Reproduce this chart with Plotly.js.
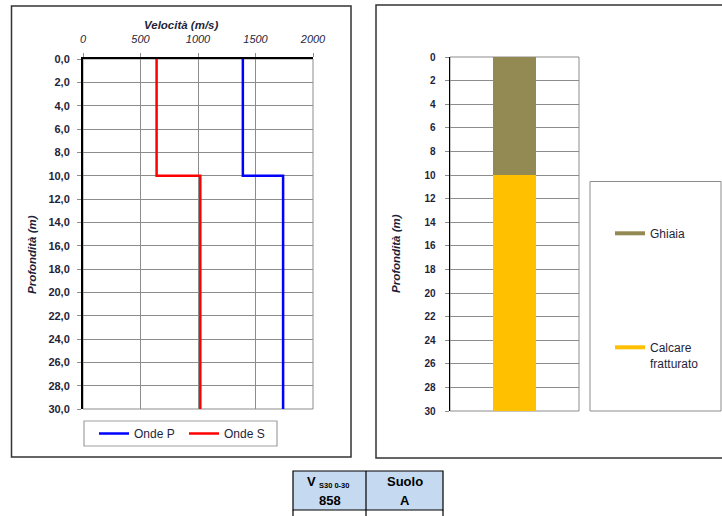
<!DOCTYPE html>
<html><head><meta charset="utf-8">
<script src="https://cdn.plot.ly/plotly-3.0.1.min.js"></script>
<style>html,body{margin:0;padding:0;background:#fff}#chart{width:722px;height:516px}</style>
</head><body><div id="chart"></div>
<script>
// ---- data ----
const profileDepth = [0, 10, 10, 30];
const vpValues = [1390, 1390, 1740, 1740];   // Onde P (m/s)
const vsValues = [640, 640, 1020, 1020];     // Onde S (m/s)
const velocityTicks = [0, 500, 1000, 1500, 2000];
const velocityTickLabels = ['0', '500', '1000', '1500', '2000'];
const depthTicks = [0,2,4,6,8,10,12,14,16,18,20,22,24,26,28,30];
const depthTickLabels = ['0,0','2,0','4,0','6,0','8,0','10,0','12,0','14,0','16,0','18,0','20,0','22,0','24,0','26,0','28,0','30,0'];
const depthTickLabels2 = ['0','2','4','6','8','10','12','14','16','18','20','22','24','26','28','30'];
const layerNames = ['Ghiaia', 'Calcare fratturato'];
const layerLegend = ['Ghiaia', 'Calcare<br>fratturato'];
const layerThickness = [10, 20];
const layerColors = ['#938953', '#FFC000'];
const vs30Value = '858';
const soilClass = 'A';

// ---- helpers (pixel -> paper) ----
const W = 722, H = 516;
const px = x => x / W;
const py = y => 1 - y / H;

const FONT = 'Arial, "Liberation Sans", sans-serif';
const TXT = '#1f1f3a';
const GRID = '#8c8c8c';

const traces = [
  {x: vpValues, y: profileDepth, xaxis:'x', yaxis:'y', mode:'lines', name:'Onde P',
   line:{color:'#0000FF', width:2.5}, legend:'legend'},
  {x: vsValues, y: profileDepth, xaxis:'x', yaxis:'y', mode:'lines', name:'Onde S',
   line:{color:'#FF0000', width:2.5}, legend:'legend'}
];
layerNames.forEach((n, i) => {
  traces.push({type:'bar', x:['profilo'], y:[layerThickness[i]], xaxis:'x2', yaxis:'y2',
    name:n, marker:{color:layerColors[i], line:{width:0}}, width:0.33, showlegend:false});
});
layerNames.forEach((n, i) => {
  traces.push({x:[null], y:[null], xaxis:'x2', yaxis:'y2', mode:'lines', name:layerLegend[i],
    line:{color:layerColors[i], width:4}, legend:'legend2', legendgroup:'g'+i});
});

const shapes = [
  // outer frames
  {type:'rect', xref:'paper', yref:'paper', x0:px(11.5), x1:px(351), y0:py(6), y1:py(457),
   line:{color:'#333', width:1.5}},
  {type:'rect', xref:'paper', yref:'paper', x0:px(376), x1:px(740), y0:py(5), y1:py(458),
   line:{color:'#333', width:1.5}},
  // plot area borders (gray)
  {type:'rect', xref:'x domain', yref:'y domain', x0:0, x1:1, y0:0, y1:1, line:{color:GRID, width:1}, layer:'below'},
  {type:'rect', xref:'x2 domain', yref:'y2 domain', x0:0, x1:1, y0:0, y1:1, line:{color:GRID, width:1}, layer:'below'},
  // legend boxes
  {type:'rect', xref:'paper', yref:'paper', x0:px(84), x1:px(277), y0:py(421), y1:py(446),
   line:{color:'#a0a0a0', width:1.2}},
  {type:'rect', xref:'paper', yref:'paper', x0:px(590), x1:px(721), y0:py(181.5), y1:py(411),
   line:{color:GRID, width:1}},
  // table
  {type:'rect', xref:'paper', yref:'paper', x0:px(293), x1:px(443), y0:py(471), y1:py(510),
   fillcolor:'#C5D9F1', line:{color:'#000', width:1.2}},
  {type:'line', xref:'paper', yref:'paper', x0:px(366), x1:px(366), y0:py(471), y1:py(520),
   line:{color:'#000', width:1.2}},
  {type:'line', xref:'paper', yref:'paper', x0:px(293), x1:px(293), y0:py(510), y1:py(520),
   line:{color:'#000', width:1.2}},
  {type:'line', xref:'paper', yref:'paper', x0:px(443), x1:px(443), y0:py(510), y1:py(520),
   line:{color:'#000', width:1.2}}
];

const ann = (x, y, text, size, extra) => Object.assign({xref:'paper', yref:'paper', x:px(x), y:py(y),
  text:text, showarrow:false, xanchor:'center', yanchor:'middle',
  font:{family:FONT, size:size, color:TXT}}, extra || {});

const annotations = [
  ann(182, 25, '<b><i>Velocità (m/s)</i></b>', 11.5),
  ann(32, 255, '<b><i>Profondità (m)</i></b>', 11.5, {textangle:-90}),
  ann(396, 254, '<b><i>Profondità (m)</i></b>', 11.5, {textangle:-90}),
  ann(311, 481, '<b>V</b>', 13, {font:{family:FONT, size:13, color:'#000'}}),
  ann(316.5, 485, '<b>S30 0-30</b>', 7.5, {xanchor:'left', font:{family:FONT, size:7.5, color:'#000'}}),
  ann(329.5, 500, '<b>'+vs30Value+'</b>', 13, {font:{family:FONT, size:13, color:'#000'}}),
  ann(404.5, 481, '<b>Suolo</b>', 13, {font:{family:FONT, size:13, color:'#000'}}),
  ann(404.5, 500, '<b>'+soilClass+'</b>', 13, {font:{family:FONT, size:13, color:'#000'}})
];

const layout = {
  width: W, height: H, margin:{l:0, r:0, t:0, b:0},
  paper_bgcolor:'#fff', plot_bgcolor:'#fff',
  font:{family:FONT, size:10, color:TXT},
  barmode:'stack',
  showlegend:true,
  xaxis:{domain:[px(83), px(313)], range:[0, 2000], side:'top', tickvals:velocityTicks,
    ticktext: velocityTickLabels, tickfont:{style:'italic', size:11, color:TXT},
    ticklabelstandoff:6,
    showgrid:true, gridcolor:GRID, gridwidth:1, zeroline:false,
    showline:true, linecolor:'#000', linewidth:2, ticks:'outside', ticklen:4, tickcolor:GRID,
    fixedrange:true, anchor:'y'},
  yaxis:{domain:[py(409), py(59)], range:[30, 0], tickvals:depthTicks, ticktext:depthTickLabels,
    tickfont:{weight:'bold', size:11, color:TXT}, ticklabelstandoff:5,
    showgrid:true, gridcolor:GRID, gridwidth:1, zeroline:false,
    showline:true, linecolor:'#000', linewidth:2, ticks:'outside', ticklen:4, tickcolor:GRID,
    fixedrange:true, anchor:'x'},
  xaxis2:{domain:[px(450), px(579)], type:'category', showticklabels:false, showgrid:false,
    zeroline:false, showline:false, fixedrange:true, anchor:'y2'},
  yaxis2:{domain:[py(411), py(57)], range:[30, 0], tickvals:depthTicks, ticktext:depthTickLabels2,
    tickfont:{weight:'bold', size:10, color:TXT}, ticklabelstandoff:7,
    showgrid:true, gridcolor:GRID, gridwidth:1, zeroline:false,
    showline:true, linecolor:'#000', linewidth:1.5, ticks:'outside', ticklen:4, tickcolor:GRID,
    fixedrange:true, anchor:'x2'},
  legend:{orientation:'h', x:px(94), y:py(419), xanchor:'left', yanchor:'top', traceorder:'normal',
    borderwidth:0, bgcolor:'rgba(0,0,0,0)', font:{family:FONT, size:12, color:TXT},
    entrywidth:45},
  legend2:{orientation:'v', x:px(610), y:py(219), xanchor:'left', yanchor:'top', traceorder:'grouped',
    borderwidth:0, bgcolor:'rgba(0,0,0,0)', font:{family:FONT, size:12, color:TXT},
    tracegroupgap:95, valign:'top'},
  shapes: shapes,
  annotations: annotations
};

Plotly.newPlot('chart', traces, layout, {displayModeBar:false, staticPlot:true});
</script>
</body></html>
